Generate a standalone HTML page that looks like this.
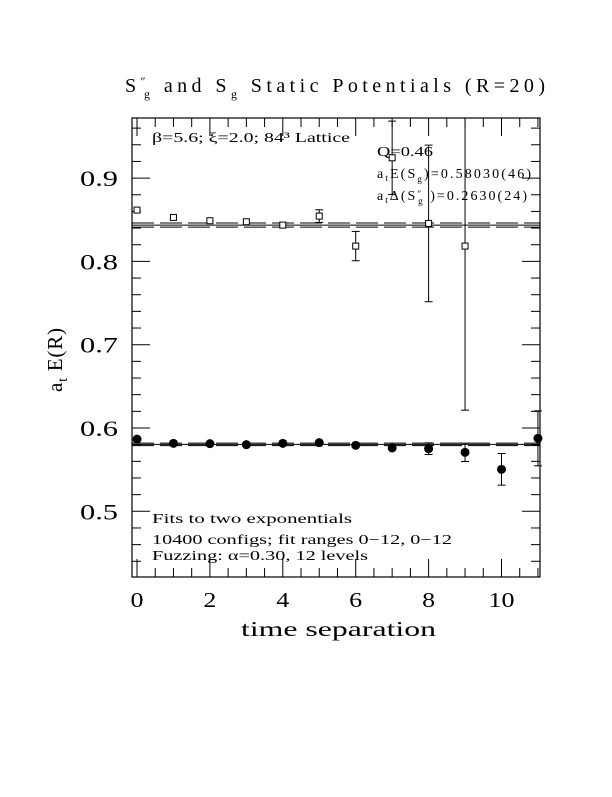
<!DOCTYPE html>
<html><head><meta charset="utf-8"><style>
html,body{margin:0;padding:0;background:#fff}
svg text{font-family:"Liberation Serif",serif;fill:#000}
</style></head><body>
<svg width="612" height="792" viewBox="0 0 612 792" xmlns="http://www.w3.org/2000/svg">
<g id="frame"></g>
<text x="125" y="92" font-size="20" textLength="420" lengthAdjust="spacing">S<tspan font-size="12" dy="-7">″</tspan><tspan font-size="12" dx="-6" dy="13">g</tspan><tspan dy="-6">   and S</tspan><tspan font-size="12" dy="6">g</tspan><tspan dy="-6"> Static Potentials (R=20)</tspan></text>
<text x="0" y="0" font-size="21" transform="translate(62,392) rotate(-90)" textLength="64" lengthAdjust="spacing">a<tspan font-size="14" dy="5">t</tspan><tspan dy="-5"> E(R)</tspan></text>
<text x="241" y="636" font-size="21" textLength="195" lengthAdjust="spacingAndGlyphs">time separation</text>
<text x="152" y="142" font-size="14" textLength="198" lengthAdjust="spacingAndGlyphs">β=5.6; ξ=2.0; 84³ Lattice</text>
<text x="377" y="156" font-size="14" textLength="56" lengthAdjust="spacingAndGlyphs">Q=0.46</text>
<text x="377" y="178" font-size="14" textLength="154" lengthAdjust="spacing">a<tspan font-size="9" dy="3">t</tspan><tspan dy="-3">E(S</tspan><tspan font-size="9" dy="4">g</tspan><tspan dy="-4">)=0.58030(46)</tspan></text>
<text x="377" y="200" font-size="14" textLength="150" lengthAdjust="spacing">a<tspan font-size="9" dy="3">t</tspan><tspan dy="-3">Δ(S</tspan><tspan font-size="9" dy="-3">″</tspan><tspan font-size="9" dx="-5" dy="7">g</tspan><tspan dy="-4">  )=0.2630(24)</tspan></text>
<text x="152" y="523" font-size="14" textLength="200" lengthAdjust="spacingAndGlyphs">Fits to two exponentials</text>
<text x="152" y="544" font-size="14" textLength="300" lengthAdjust="spacingAndGlyphs">10400 configs; fit ranges 0−12, 0−12</text>
<text x="152" y="560" font-size="14" textLength="216" lengthAdjust="spacingAndGlyphs">Fuzzing: α=0.30, 12 levels</text>
<g id="marks"></g>
</svg>
<script>
const xTicks=[0,2,4,6,8,10];
const yTicks=[0.5,0.6,0.7,0.8,0.9];
const tFilled=[0,1,2,3,4,5,6,7,8,9,10,11];
const eFilled=[0.5866,0.5816,0.5812,0.5800,0.5816,0.5824,0.5792,0.5760,0.5752,0.5708,0.5504,0.5876];
const errFilled=[0.001,0.001,0.001,0.001,0.001,0.0015,0.0015,0.002,0.007,0.011,0.019,0.033];
const tOpen=[0,1,2,3,4,5,6,7,8,9];
const eOpen=[0.8616,0.8528,0.8488,0.8476,0.8436,0.8544,0.8184,0.9244,0.8456,0.8184];
const errOpen=[0.001,0.001,0.001,0.001,0.001,0.0076,0.0176,0.044,0.094,0.197];
const fitFilled=[0.5803,0.0015];
const fitOpen=[0.8436,0.0025];
const L=132,R=540,T=118,B=577;
const X=t=>137+t*36.45;
const Y=v=>428-(v-0.6)*833;
const NS="http://www.w3.org/2000/svg";
function mk(tag,attrs,parent){const e=document.createElementNS(NS,tag);for(const k in attrs)e.setAttribute(k,attrs[k]);parent.appendChild(e);return e;}
const fr=document.getElementById('frame');
const box=mk('rect',{x:L,y:T,width:R-L,height:B-T,fill:'none',stroke:'#000','stroke-width':1.2},fr);


for(let t=0;t<=11.01;t+=0.5){const x=X(t);const len=(Math.abs(t%2)<0.01)?18:9;
 mk('line',{x1:x,y1:B,x2:x,y2:B-len,stroke:'#000'},fr);mk('line',{x1:x,y1:T,x2:x,y2:T+len,stroke:'#000'},fr);}
for(let i=0;i<=27;i++){const v=0.42+i*0.02;const y=Y(v);if(y<T||y>B)continue;const maj=Math.abs((v*10)-Math.round(v*10))<0.01;const len=maj?18:9;
 mk('line',{x1:L,y1:y,x2:L+len,y2:y,stroke:'#000'},fr);mk('line',{x1:R,y1:y,x2:R-len,y2:y,stroke:'#000'},fr);}
xTicks.forEach(t=>{const s=String(t);const tx=mk('text',{x:X(t),y:607,'font-size':21,'text-anchor':'middle',textLength:s.length*13,lengthAdjust:'spacingAndGlyphs'},fr);tx.textContent=s;
 
 });
yTicks.forEach(v=>{const tx=mk('text',{x:80,y:Y(v)+8,'font-size':22,textLength:38,lengthAdjust:'spacingAndGlyphs'},fr);tx.textContent=v.toFixed(1);
 
 });
const mg=document.getElementById('marks');
function fit(f,name){
 const s=mk('line',{x1:L,x2:R,y1:Y(f[0]),y2:Y(f[0]),stroke:'#000','stroke-width':1},mg);
 
 
 [f[0]+f[1],f[0]-f[1]].forEach(v=>{const d=mk('line',{x1:L,x2:R,y1:Y(v),y2:Y(v),stroke:'#000','stroke-width':1,'stroke-dasharray':'22,6'},mg);
 
 });
}
fit(fitOpen,'open');fit(fitFilled,'filled');
function clip(y){return Math.max(T,Math.min(B,y));}
function errbar(x,v,e){const y1=Y(v+e),y2=Y(v-e);if(Y(v)-y1<4)return;
 mk('line',{x1:x,x2:x,y1:clip(y1),y2:clip(y2),stroke:'#000'},mg);
 if(y1>=T)mk('line',{x1:x-4,x2:x+4,y1:y1,y2:y1,stroke:'#000'},mg);
 if(y2<=B)mk('line',{x1:x-4,x2:x+4,y1:y2,y2:y2,stroke:'#000'},mg);}
tOpen.forEach((t,i)=>{const x=X(t),y=Y(eOpen[i]);errbar(x,eOpen[i],errOpen[i]);
 const r=mk('rect',{x:x-3,y:y-3,width:6,height:6,fill:'#fff',stroke:'#000'},mg);
 
 });
tFilled.forEach((t,i)=>{const x=X(t),y=Y(eFilled[i]);errbar(x,eFilled[i],errFilled[i]);
 const c=mk('circle',{cx:x,cy:y,r:4.5,fill:'#000'},mg);
 
 });
</script>
</body></html>
